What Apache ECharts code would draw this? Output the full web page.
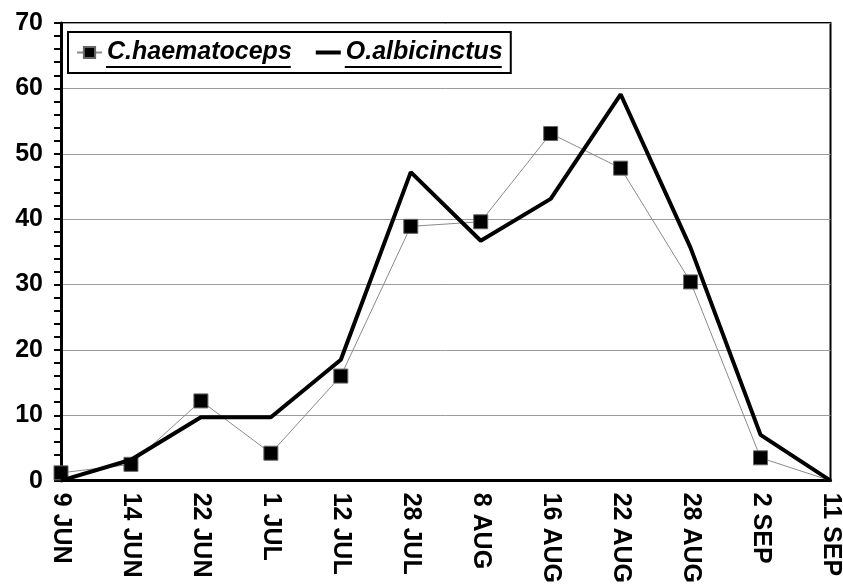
<!DOCTYPE html>
<html>
<head>
<meta charset="utf-8">
<script src="https://cdn.jsdelivr.net/npm/echarts@6/dist/echarts.min.js"></script>
<style>html,body{margin:0;padding:0;background:#fff}#c{width:843px;height:586px}</style>
</head>
<body>
<div id="c"></div>
<script>
const categories = ['9 JUN','14 JUN','22 JUN','1 JUL','12 JUL','28 JUL','8 AUG','16 AUG','22 AUG','28 AUG','2 SEP','11 SEP'];
const haematoceps = [1.2, 2.5, 12.2, 4.2, 16.0, 38.9, 39.6, 53.1, 47.8, 30.4, 3.5, 0];
const albicinctus = [0, 3.2, 9.7, 9.7, 18.5, 47.2, 36.7, 43.1, 59.1, 35.6, 7.0, 0];
const seriesNames = ['C.haematoceps', 'O.albicinctus'];

const FONT = 'Liberation Sans, Arial, Helvetica, sans-serif';
const chart = echarts.init(document.getElementById('c'), null, {renderer: 'canvas'});

// measure legend text widths for underline decoration
const cv = document.createElement('canvas').getContext('2d');
cv.font = 'italic bold 25px ' + FONT;
const w1 = cv.measureText(seriesNames[0]).width;
const w2 = cv.measureText(seriesNames[1]).width;
const legL = 68, legPad = 8, itemW = 25, gap = 24;
const t1x = legL + legPad + itemW + 5;
const t2x = t1x + w1 + gap + itemW + 5;
const ulY = 67;

chart.setOption({
  animation: false,
  textStyle: {fontFamily: FONT},
  grid: {left: 61, right: 12, top: 23, bottom: 102, show: true, borderColor: '#000', borderWidth: 2, containLabel: false},
  legend: {
    left: legL, top: 32,
    padding: [8, legPad, 8, legPad],
    borderColor: '#000', borderWidth: 2,
    backgroundColor: '#fff',
    itemWidth: itemW, itemHeight: 14, itemGap: gap,
    textStyle: {fontSize: 25, fontWeight: 'bold', fontStyle: 'italic', color: '#000', fontFamily: FONT},
    data: [
      {name: seriesNames[0]},
      {name: seriesNames[1], icon: 'path://M0,0L25,0L25,4L0,4Z'}
    ]
  },
  xAxis: {
    type: 'category',
    data: categories,
    boundaryGap: false,
    axisLine: {lineStyle: {color: '#000', width: 3}},
    axisTick: {show: false},
    axisLabel: {rotate: -90, margin: 12, fontSize: 25, fontWeight: 'bold', color: '#000', fontFamily: FONT, interval: 0},
    splitLine: {show: false}
  },
  yAxis: {
    type: 'value',
    min: 0, max: 70, interval: 10,
    axisLine: {show: true, lineStyle: {color: '#000', width: 3}},
    axisTick: {show: true, length: 7, lineStyle: {color: '#000', width: 2}},
    minorTick: {show: true, splitNumber: 5, length: 7, lineStyle: {color: '#000', width: 2}},
    axisLabel: {margin: 18, fontSize: 25, fontWeight: 'bold', color: '#000', fontFamily: FONT},
    splitLine: {show: true, lineStyle: {color: '#9a9a9a', width: 1}}
  },
  series: [
    {
      name: seriesNames[0],
      type: 'line',
      data: haematoceps.map((v, i) => i === haematoceps.length - 1 ? {value: v, symbol: 'none'} : v),
      symbol: 'rect', symbolSize: 14,
      showAllSymbol: true,
      lineStyle: {color: '#8a8a8a', width: 1},
      itemStyle: {color: '#000', borderColor: '#666', borderWidth: 1},
      z: 2
    },
    {
      name: seriesNames[1],
      type: 'line',
      data: albicinctus,
      symbol: 'none',
      lineStyle: {color: '#000', width: 4},
      itemStyle: {color: '#000'},
      z: 3
    }
  ],
  graphic: [
    {type: 'line', shape: {x1: t1x, y1: ulY, x2: t1x + w1, y2: ulY}, style: {stroke: '#000', lineWidth: 2}, z: 100},
    {type: 'line', shape: {x1: t2x, y1: ulY, x2: t2x + w2, y2: ulY}, style: {stroke: '#000', lineWidth: 2}, z: 100}
  ]
});
</script>
</body>
</html>
